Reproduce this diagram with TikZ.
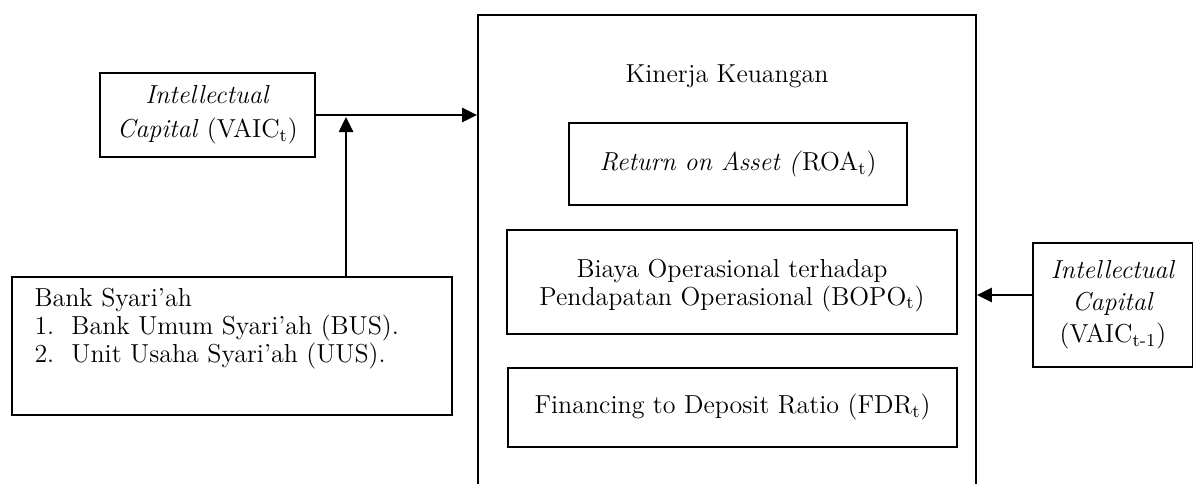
\documentclass[tikz,border=0pt]{standalone}
\usetikzlibrary{arrows.meta}
\begin{document}
\begin{tikzpicture}
  [x=0.5pt,y=-0.5pt,
  teks/.style={font=\fontsize{13}{14}\selectfont},
  kotak/.style={draw,line width=0.9pt,align=center,inner sep=2pt,teks},
  panah/.style={line width=1.3pt,-{Triangle[length=7.5pt,width=7pt]}}]
  \clip (0,0) rectangle (1193,483);
  % kotak besar kinerja keuangan
  \node[kotak,minimum width=249pt,minimum height=245pt] (kinerja) at (727,260) {};
  \node[teks] (judul) at (727,76) {Kinerja Keuangan};
  \node[kotak,minimum width=169pt,minimum height=41pt] (roa) at (738,164)
    {\textit{Return on Asset (}ROA\textsubscript{t})};
  \node[kotak,minimum width=225pt,minimum height=52pt,text depth=0pt] (bopo) at (732,282)
    {Biaya Operasional terhadap\\Pendapatan Operasional (BOPO\textsubscript{t})};
  \node[kotak,minimum width=224.5pt,minimum height=39.5pt] (fdr) at (732.5,407.5)
    {Financing to Deposit Ratio (FDR\textsubscript{t})};
  % variabel di kiri dan kanan
  \node[kotak,minimum width=107.5pt,minimum height=42pt,font=\fontsize{13}{17}\selectfont] (icl) at (207.5,115)
    {\textit{Intellectual}\\\textit{Capital} (VAIC\textsubscript{t})};
  \node[kotak,minimum width=80pt,minimum height=62pt,font=\fontsize{13}{16}\selectfont] (icr) at (1113,305)
    {\textit{Intellectual}\\\textit{Capital}\\(VAIC\textsubscript{t-1})};
  \node[kotak,minimum width=220pt,minimum height=69pt] (bank) at (232,346) {};
  \node[teks,anchor=north west,align=left,inner sep=0pt] (banktxt) at ([shift={(11.5pt,-6pt)}]bank.north west)
    {Bank Syari'ah\\
     \makebox[18.5pt][l]{1.}Bank Umum Syari'ah (BUS).\\
     \makebox[18.5pt][l]{2.}Unit Usaha Syari'ah (UUS).};
  \coordinate (temu) at (346,117);
  \coordinate (icrkiri) at ([yshift=5pt]icr.west);
  \draw[panah] (icl.east) -- (kinerja.west |- icl.east);
  \draw[panah] (bank.north -| temu) -- (temu);
  \draw[panah] (icrkiri) -- (kinerja.east |- icrkiri);
\end{tikzpicture}
\end{document}
